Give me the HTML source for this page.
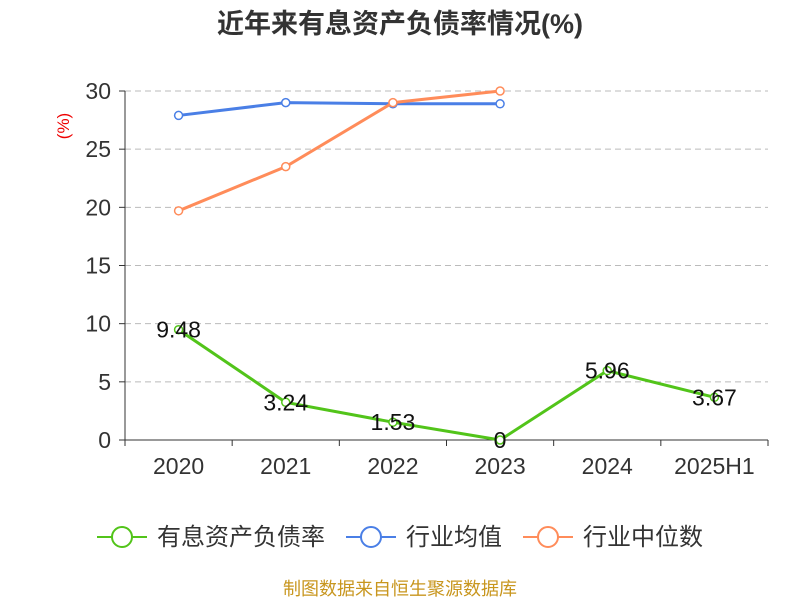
<!DOCTYPE html>
<html><head><meta charset="utf-8">
<style>
body{margin:0;background:#fff;font-family:"Liberation Sans","Noto Sans CJK SC",sans-serif;}
svg text{font-family:"Liberation Sans","Noto Sans CJK SC",sans-serif;}
</style></head>
<body>
<svg width="800" height="600">
<text x="400" y="33" text-anchor="middle" font-size="27" font-weight="bold" fill="#333">近年来有息资产负债率情况(%)</text>
<text x="0" y="0" transform="translate(69,126) rotate(-90)" text-anchor="middle" font-size="17" fill="#e00">(%)</text>
<g id="grid"></g><g id="axes"></g><g id="series"></g>
<g>
<g><line x1="97" y1="537" x2="147" y2="537" stroke="#52c41a" stroke-width="2"/><circle cx="122" cy="537" r="10" fill="#fff" stroke="#52c41a" stroke-width="2"/><text x="157" y="545" font-size="24" fill="#333">有息资产负债率</text></g>
<g><line x1="346" y1="537" x2="396" y2="537" stroke="#4a7fe6" stroke-width="2"/><circle cx="371" cy="537" r="10" fill="#fff" stroke="#4a7fe6" stroke-width="2"/><text x="406" y="545" font-size="24" fill="#333">行业均值</text></g>
<g><line x1="523" y1="537" x2="573" y2="537" stroke="#ff8c5a" stroke-width="2"/><circle cx="548" cy="537" r="10" fill="#fff" stroke="#ff8c5a" stroke-width="2"/><text x="583" y="545" font-size="24" fill="#333">行业中位数</text></g>
</g>
<text x="400" y="595" text-anchor="middle" font-size="18" fill="#c8961e">制图数据来自恒生聚源数据库</text>
</svg>
<script>
const categories=["2020","2021","2022","2023","2024","2025H1"];
const debtRatio=[9.48,3.24,1.53,0,5.96,3.67];
const debtLabels=["9.48","3.24","1.53","0","5.96","3.67"];
const industryAvg=[27.9,29.0,28.9,28.9];
const industryMedian=[19.7,23.5,29.0,30.0];
const yTicks=[0,5,10,15,20,25,30];
const NS="http://www.w3.org/2000/svg";
const L=125,R=768,T=91,B=440,yMax=30;
const bw=(R-L)/categories.length;
const xs=i=>L+bw*(i+0.5);
const ys=v=>B-(v/yMax)*(B-T);
function mk(t,a,p){const e=document.createElementNS(NS,t);for(const k in a)e.setAttribute(k,a[k]);p.appendChild(e);return e;}
const grid=document.getElementById('grid'),axes=document.getElementById('axes'),ser=document.getElementById('series');
yTicks.forEach(v=>{
 if(v>0){const g=mk('line',{x1:L,x2:R,y1:ys(v),y2:ys(v),stroke:'#bbb','stroke-dasharray':'6,4'},grid);
 
 }
 const tk=mk('line',{x1:L-6,x2:L,y1:ys(v),y2:ys(v),stroke:'#333'},axes);
 
 
 const t=mk('text',{x:L-14,y:ys(v)+8,'text-anchor':'end','font-size':23,fill:'#333'},axes);t.textContent=v;
 
 
});
const ya=mk('line',{x1:L,x2:L,y1:T,y2:B,stroke:'#333'},axes);


const xa=mk('line',{x1:L,x2:R,y1:B,y2:B,stroke:'#333'},axes);


for(let i=0;i<=categories.length;i++){const tk=mk('line',{x1:L+bw*i,x2:L+bw*i,y1:B,y2:B+6,stroke:'#333'},axes);
 
 }
categories.forEach((c,i)=>{const t=mk('text',{x:xs(i),y:B+34,'text-anchor':'middle','font-size':23,fill:'#333'},axes);t.textContent=c;
 
 });
function line(data,color,name){
 const g=mk('g',{},ser);
 
 
 mk('polyline',{points:data.map((v,i)=>xs(i)+','+ys(v)).join(' '),fill:'none',stroke:color,'stroke-width':3},g);
 data.forEach((v,i)=>{const c=mk('circle',{cx:xs(i),cy:ys(v),r:4,fill:'#fff',stroke:color,'stroke-width':1.5},g);
  
  });
 return g;
}
line(industryAvg,'#4a7fe6','industry-avg-line');
line(industryMedian,'#ff8c5a','industry-median-line');
const dg=line(debtRatio,'#52c41a','debt-ratio-line');
debtRatio.forEach((v,i)=>{const t=mk('text',{x:xs(i),y:ys(v)+8,'text-anchor':'middle','font-size':23,fill:'#111'},dg);t.textContent=debtLabels[i];
 
 });
</script>
</body></html>
